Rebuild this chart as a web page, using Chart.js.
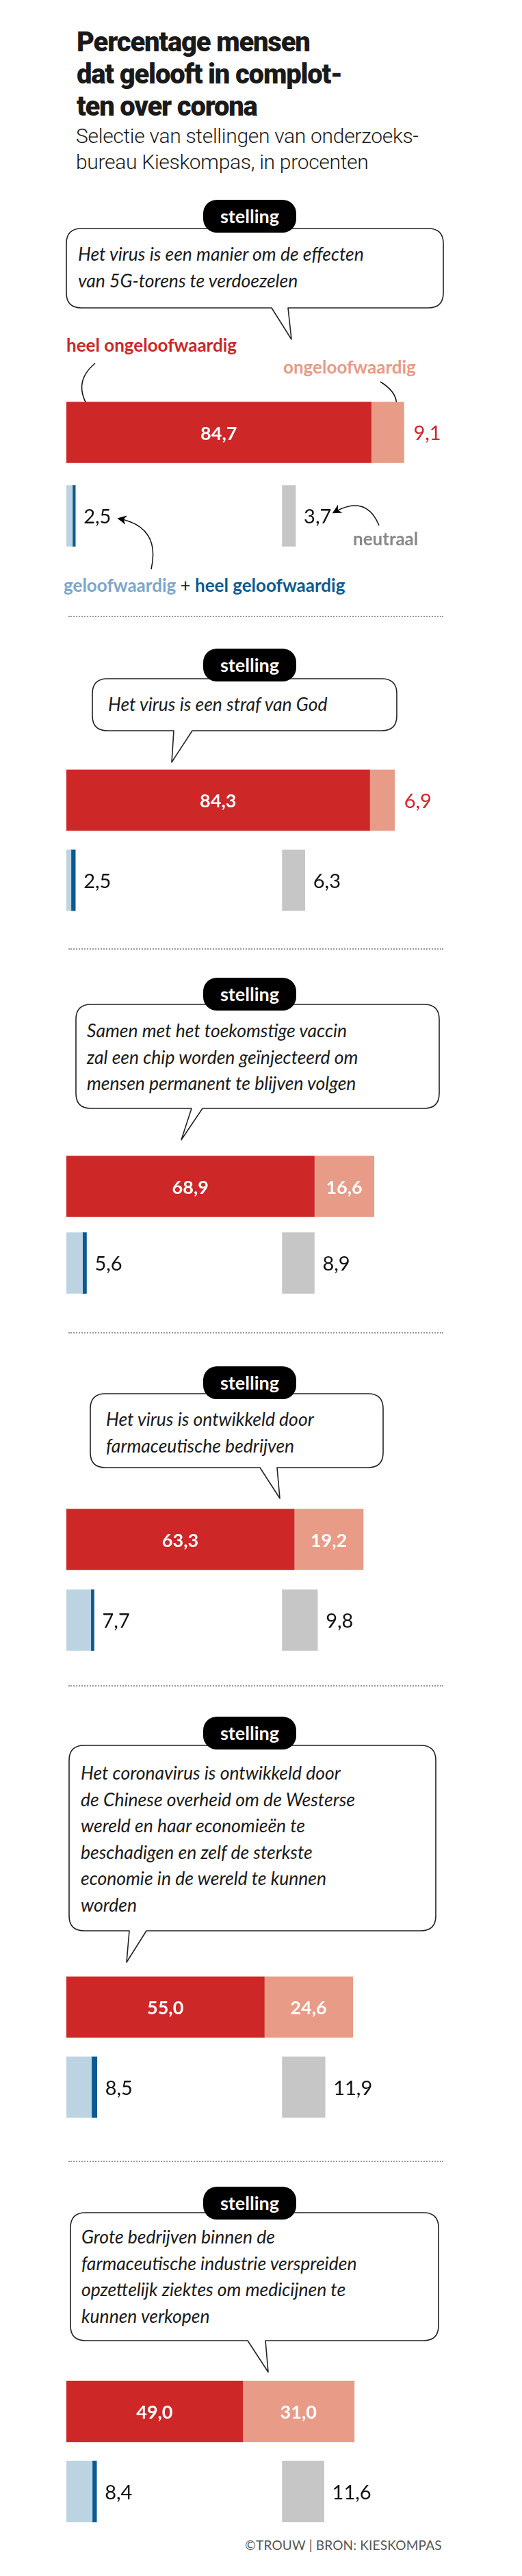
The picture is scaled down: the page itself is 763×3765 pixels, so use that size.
<!DOCTYPE html>
<html>
<head>
<meta charset="utf-8">
<script src="https://cdn.jsdelivr.net/npm/chart.js@4"></script>
<style>
  body { margin: 0; background: #fff; font-family: 'Lato', sans-serif; }
  #page { position: relative; width: 763px; height: 3765px; overflow: hidden; }
  .abs { position: absolute; }
  h1 { position: absolute; left: 112px; top: 38px; margin: 0; font: 900 40px/47px 'Roboto', sans-serif; letter-spacing: -1.2px; color: #1a1a1a; }
  .sub { left: 111px; top: 180px; font: 300 30px/38px 'Roboto', sans-serif; color: #1a1a1a; letter-spacing: -0.3px; }
  .badge { background: #000; color: #fff; border-radius: 20px; font: 700 27px/48px 'Lato', sans-serif; text-align: center; width: 136px; height: 48px; left: 297px; }
  .quote { font: italic 400 26.5px/38.5px 'Lato', sans-serif; color: #1a1a1a; white-space: pre; }
  .sep { left: 100px; width: 548px; border-top: 2px dotted #999; height: 0; }
  .lbl { font: 700 26px 'Lato', sans-serif; white-space: nowrap; }
  canvas { position: absolute; left: 0; }
</style>
</head>
<body>
<div id="page">
  <h1>Percentage mensen<br>dat gelooft in complot-<br>ten over corona</h1>
  <div class="abs sub">Selectie van stellingen van onderzoeks-<br>bureau Kieskompas, in procenten</div>
  <svg id="shapes" class="abs" width="763" height="3765" style="left:0;top:0"></svg>
</div>
<script>
// values per statement, in percent
const statements = [
  'Het virus is een manier om de effecten\nvan 5G-torens te verdoezelen',
  'Het virus is een straf van God',
  'Samen met het toekomstige vaccin\nzal een chip worden geïnjecteerd om\nmensen permanent te blijven volgen',
  'Het virus is ontwikkeld door\nfarmaceutische bedrijven',
  'Het coronavirus is ontwikkeld door\nde Chinese overheid om de Westerse\nwereld en haar economieën te\nbeschadigen en zelf de sterkste\neconomie in de wereld te kunnen\nworden',
  'Grote bedrijven binnen de\nfarmaceutische industrie verspreiden\nopzettelijk ziektes om medicijnen te\nkunnen verkopen'
];
const heelOngeloofwaardig = [84.7, 84.3, 68.9, 63.3, 55.0, 49.0];
const ongeloofwaardig = [9.1, 6.9, 16.6, 19.2, 24.6, 31.0];
const geloofwaardigTotaal = [2.5, 2.5, 5.6, 7.7, 8.5, 8.4];
// split light/dark (only the total is printed)
const heelGeloofwaardig = [0.8, 1.2, 1.1, 0.9, 1.5, 1.2];
const neutraal = [3.7, 6.3, 8.9, 9.8, 11.9, 11.6];
const neutraalStart = 60;

const RED = '#cd2727', PINK = '#e89b86', LIGHT = '#bcd4e2', DARK = '#0b5a90', GRAY = '#c6c6c6';

// layout of each panel (page pixels)
const panels = [
  { badge: 292, box: [97, 334, 648, 450], tail: [397, 421, 426, 496], text: [114, 352], bar: 587, gap: 122 },
  { badge: 948, box: [135, 992, 580, 1068], tail: [254, 281, 251, 1114], text: [158, 1010], bar: 1125, gap: 117 },
  { badge: 1429, box: [111, 1468, 642, 1620], tail: [280, 296, 265, 1666], text: [127, 1487], bar: 1689, gap: 112 },
  { badge: 1997, box: [132, 2037, 560, 2145], tail: [380, 405, 409, 2190], text: [155, 2055], bar: 2205, gap: 118 },
  { badge: 2509, box: [101, 2551, 637, 2822], tail: [189, 214, 185, 2868], text: [118, 2572], bar: 2889, gap: 117 },
  { badge: 3196, box: [103, 3234, 641, 3421], tail: [362, 388, 392, 3467], text: [119, 3250], bar: 3480, gap: 117 }
];
const separators = [900, 1386, 1947, 2463, 3158];

const page = document.getElementById('page');
const svg = document.getElementById('shapes');
const NS = 'http://www.w3.org/2000/svg';

function el(tag, attrs) {
  const e = document.createElementNS(NS, tag);
  for (const k in attrs) e.setAttribute(k, attrs[k]);
  svg.appendChild(e);
  return e;
}

function bubblePath(box, tail) {
  const [x1, y1, x2, y2] = box, r = 22;
  const [b1, b2, tx, ty] = tail;
  return `M${x1 + r},${y1} H${x2 - r} Q${x2},${y1} ${x2},${y1 + r} V${y2 - r} Q${x2},${y2} ${x2 - r},${y2}` +
    ` H${b2} L${tx},${ty} L${b1},${y2} H${x1 + r} Q${x1},${y2} ${x1},${y2 - r} V${y1 + r} Q${x1},${y1} ${x1 + r},${y1} Z`;
}

function div(cls, style, text) {
  const d = document.createElement('div');
  d.className = 'abs ' + cls;
  Object.assign(d.style, style);
  d.textContent = text;
  page.appendChild(d);
  return d;
}

separators.forEach(y => div('sep', { top: y + 'px' }, ''));

const labelPlugin = {
  id: 'valueLabels',
  afterDatasetsDraw(chart) {
    const ctx = chart.ctx;
    const i = chart.options.panelIndex;
    const x = chart.scales.x;
    const redEl = chart.getDatasetMeta(0).data[0];
    const pinkEl = chart.getDatasetMeta(1).data[0];
    const darkEl = chart.getDatasetMeta(3).data[1];
    const grayEl = chart.getDatasetMeta(4).data[1];
    const fmt = v => v.toFixed(1).replace('.', ',');
    ctx.save();
    ctx.textBaseline = 'middle';
    ctx.textAlign = 'center';
    ctx.fillStyle = '#fff';
    ctx.font = "700 27px 'Lato', sans-serif";
    ctx.fillText(fmt(heelOngeloofwaardig[i]), (x.getPixelForValue(0) + redEl.x) / 2, redEl.y + 2);
    const pinkEnd = x.getPixelForValue(heelOngeloofwaardig[i] + ongeloofwaardig[i]);
    if (ongeloofwaardig[i] >= 12) {
      ctx.fillText(fmt(ongeloofwaardig[i]), (redEl.x + pinkEnd) / 2, pinkEl.y + 2);
    } else {
      ctx.textAlign = 'left';
      ctx.fillStyle = '#d0262c';
      ctx.font = "400 29px 'Lato', sans-serif";
      ctx.fillText(fmt(ongeloofwaardig[i]), pinkEnd + 14, pinkEl.y + 2);
    }
    ctx.textAlign = 'left';
    ctx.fillStyle = '#111';
    ctx.font = "400 29px 'Lato', sans-serif";
    ctx.fillText(fmt(geloofwaardigTotaal[i]), darkEl.x + 12, darkEl.y + 2);
    ctx.fillText(fmt(neutraal[i]), grayEl.x + 12, grayEl.y + 2);
    ctx.restore();
  }
};

panels.forEach((p, i) => {
  // speech bubble
  el('path', { d: bubblePath(p.box, p.tail), fill: '#fff', stroke: '#222', 'stroke-width': 1.6, 'stroke-linejoin': 'round' });
  div('badge', { top: p.badge + 'px' }, 'stelling');
  div('quote', { left: p.text[0] + 'px', top: p.text[1] + 'px' }, statements[i]);

  // bars
  const pad = (p.gap - 89) / 2;
  const canvas = document.createElement('canvas');
  canvas.style.top = (p.bar - pad) + 'px';
  canvas.style.width = '763px';
  canvas.style.height = (2 * p.gap) + 'px';
  page.appendChild(canvas);
  const r = heelOngeloofwaardig[i], o = ongeloofwaardig[i];
  const g = geloofwaardigTotaal[i] - heelGeloofwaardig[i];
  const bar = (data, color) => ({ data, backgroundColor: color, barThickness: 89, borderSkipped: false, grouped: false });
  new Chart(canvas, {
    type: 'bar',
    data: {
      labels: ['ongeloofwaardig', 'geloofwaardig / neutraal'],
      datasets: [
        bar([[0, r], null], RED),
        bar([[r, r + o], null], PINK),
        bar([null, [0, g]], LIGHT),
        bar([null, [g, geloofwaardigTotaal[i]]], DARK),
        bar([null, [neutraalStart, neutraalStart + neutraal[i]]], GRAY)
      ]
    },
    options: {
      panelIndex: i,
      indexAxis: 'y',
      animation: false,
      responsive: false,
      maintainAspectRatio: false,
      layout: { padding: { left: 97, right: 140, top: 0, bottom: 0 } },
      plugins: { legend: { display: false }, tooltip: { enabled: false } },
      scales: {
        x: { display: false, min: 0, max: 100 },
        y: { display: false }
      }
    },
    plugins: [labelPlugin]
  });
});

// legend annotations of the first panel
div('lbl', { left: '97px', top: '488px', color: RED }, 'heel ongeloofwaardig');
div('lbl', { left: '414px', top: '520px', color: PINK }, 'ongeloofwaardig');
div('lbl', { left: '516px', top: '771px', color: '#888' }, 'neutraal');
const leg = div('lbl', { left: '93px', top: '839px', color: '#7ba6cc' }, 'geloofwaardig');
leg.innerHTML = 'geloofwaardig <span style="color:#222;font-weight:400">+</span> <span style="color:#0b5a90">heel geloofwaardig</span>';

const defs = el('defs', {});
const marker = document.createElementNS(NS, 'marker');
[['id', 'ah'], ['viewBox', '0 0 10 10'], ['refX', 8], ['refY', 5], ['markerWidth', 9], ['markerHeight', 9], ['orient', 'auto']]
  .forEach(([k, v]) => marker.setAttribute(k, v));
const head = document.createElementNS(NS, 'path');
head.setAttribute('d', 'M0,0 L10,5 L0,10 L3,5 Z');
marker.appendChild(head);
defs.appendChild(marker);
[
  'M139,531 Q104,560 132,599',
  'M556,558 Q600,585 562,625',
  'M221,832 Q235,770 174,758',
  'M554,768 Q535,722 488,749'
].forEach(d => el('path', { d, fill: 'none', stroke: '#111', 'stroke-width': 1.5, 'marker-end': 'url(#ah)' }));

div('', { left: '358px', top: '3708px', font: "400 19px 'Lato', sans-serif", color: '#555', letterSpacing: '0.2px' }, '©TROUW | BRON: KIESKOMPAS');
</script>
</body>
</html>
